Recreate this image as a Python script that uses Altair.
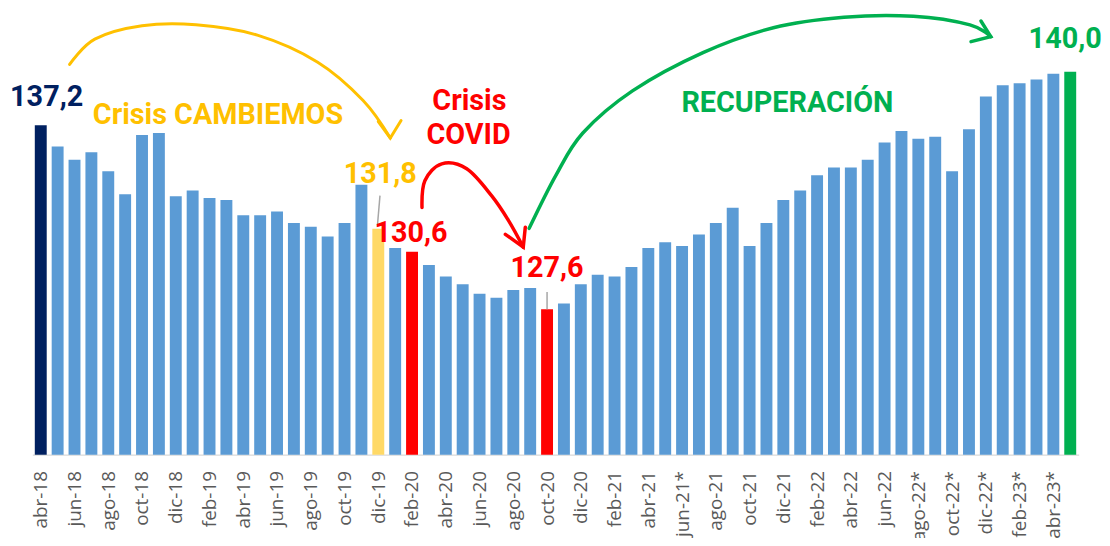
import altair as alt
import pandas as pd

# ---------------- data ----------------
months = [
    "abr-18", "may-18", "jun-18", "jul-18", "ago-18", "sep-18", "oct-18", "nov-18", "dic-18",
    "ene-19", "feb-19", "mar-19", "abr-19", "may-19", "jun-19", "jul-19", "ago-19", "sep-19",
    "oct-19", "nov-19", "dic-19",
    "ene-20", "feb-20", "mar-20", "abr-20", "may-20", "jun-20", "jul-20", "ago-20", "sep-20",
    "oct-20", "nov-20", "dic-20",
    "ene-21", "feb-21", "mar-21", "abr-21", "may-21", "jun-21*", "jul-21", "ago-21", "sep-21",
    "oct-21", "nov-21", "dic-21",
    "ene-22", "feb-22", "mar-22", "abr-22", "may-22", "jun-22", "jul-22", "ago-22*", "sep-22*",
    "oct-22*", "nov-22*", "dic-22*",
    "ene-23*", "feb-23*", "mar-23*", "abr-23*", "may-23*",
]
values = [
    137.2, 136.1, 135.4, 135.8, 134.8, 133.6, 136.7, 136.8, 133.5,
    133.8, 133.4, 133.3, 132.5, 132.5, 132.7, 132.1, 131.9, 131.4,
    132.1, 134.1, 131.8,
    130.8, 130.6, 129.9, 129.3, 128.9, 128.4, 128.2, 128.6, 128.7,
    127.6, 127.9, 128.9,
    129.4, 129.3, 129.8, 130.8, 131.1, 130.9, 131.5, 132.1, 132.9,
    130.9, 132.1, 133.3,
    133.8, 134.6, 135.0, 135.0, 135.4, 136.3, 136.9, 136.5, 136.6,
    134.8, 137.0, 138.7,
    139.3, 139.4, 139.6, 139.9, 140.0,
]
highlight = {0: "inicio", 20: "cambiemos", 22: "covid", 30: "covid", 61: "fin"}
group_names = ["base", "inicio", "cambiemos", "covid", "fin"]
group_colors = ["#5B9BD5", "#002060", "#FFD966", "#FF0000", "#00B050"]

# annotations (x in bar index, y in index value)
ann_text = ["137,2", "Crisis CAMBIEMOS", "131,8", "130,6", "127,6",
            "Crisis", "COVID", "RECUPERACIÓN", "140,0"]
ann_x = [0.35, 10.5, 20.12, 21.94, 30.0, 25.4, 25.35, 44.24, 60.7]
ann_y = [138.2, 137.27, 134.21, 131.1, 129.28, 137.99, 136.23, 137.89, 141.25]
ann_color = ["#002060", "#FFC000", "#FFC000", "#FF0000", "#FF0000",
             "#FF0000", "#FF0000", "#00B050", "#00B050"]

# curved arrows: control points (bar index, index value)
yellow_x = [1.71, 3.2, 6.0, 9.2, 12.88, 16.41, 19.1, 20.71]
yellow_y = [140.38, 141.7, 142.4, 142.45, 141.9, 140.5, 138.5, 136.54]
yellow_head_x = [20.0, 20.71, 21.35]
yellow_head_y = [137.4, 136.54, 137.45]

red_x = [22.59, 22.76, 23.76, 25.24, 26.71, 27.71, 28.59]
red_y = [132.91, 134.31, 135.19, 134.93, 133.53, 132.24, 130.84]
red_head_x = [27.53, 28.59, 28.71]
red_head_y = [131.51, 130.84, 131.88]

green_x = [28.94, 30.53, 32.12, 35.06, 39.24, 43.41, 47.59, 51.71, 55.06, 56.29]
green_y = [131.82, 134.6, 136.8, 139.0, 141.0, 142.3, 142.85, 142.9, 142.45, 141.83]
green_head_x = [55.71, 56.29, 55.12]
green_head_y = [142.65, 141.83, 141.57]

# leader lines
lead_x = [20.1, 30.0]
lead_x2 = [19.95, 30.0]
lead_y = [133.53, 128.5]
lead_y2 = [131.98, 127.6]

# ---------------- chart ----------------
bars_df = pd.DataFrame({
    "x": list(range(len(values))),
    "y": values,
    "mes": months,
    "grupo": [highlight.get(i, "base") for i in range(len(values))],
})

label_array = "[" + ",".join("'" + m + "'" for m in months) + "]"
xs = alt.Scale(domain=[-0.5, len(values) - 0.5], nice=False, zero=False, padding=0)
ys = alt.Scale(domain=[120, 143], nice=False, zero=False, padding=0)
xaxis = alt.Axis(
    values=list(range(0, len(values), 2)),
    labelExpr=label_array + "[datum.value]",
    labelAngle=-90,
    labelFont="Open Sans",
    labelFontSize=19,
    labelColor="#595959",
    labelPadding=16,
    labelOverlap=False,
    labelFlush=False,
    ticks=False,
    tickSize=0,
    grid=False,
    domainColor="#D9D9D9",
    domainWidth=1.2,
    title=None,
)

def X(field="x"):
    return alt.X(field + ":Q", scale=xs, axis=xaxis)

def Y(field="y"):
    return alt.Y(field + ":Q", scale=ys, axis=None)

bars = alt.Chart(bars_df).mark_bar(size=12).encode(
    x=X(),
    y=Y(),
    y2=alt.datum(120),
    color=alt.Color("grupo:N", scale=alt.Scale(domain=group_names, range=group_colors), legend=None),
)

def arc(xv, yv, color, width):
    df = pd.DataFrame({"x": xv, "y": yv, "k": list(range(len(xv)))})
    return alt.Chart(df).mark_line(
        interpolate="cardinal", color=color, strokeWidth=width, strokeCap="round"
    ).encode(x=X(), y=Y(), order="k:Q")

def head(xv, yv, color, width):
    df = pd.DataFrame({"x": xv, "y": yv, "k": list(range(len(xv)))})
    return alt.Chart(df).mark_line(
        color=color, strokeWidth=width, strokeCap="round", strokeJoin="miter"
    ).encode(x=X(), y=Y(), order="k:Q")

lead_df = pd.DataFrame({"x": lead_x, "x2": lead_x2, "y": lead_y, "y2": lead_y2})
leaders = alt.Chart(lead_df).mark_rule(color="#A6A6A6", strokeWidth=1.5).encode(
    x=X(), x2="x2:Q", y=Y(), y2="y2:Q"
)

ann_df = pd.DataFrame({"x": ann_x, "y": ann_y, "t": ann_text, "c": ann_color})
texts = alt.Chart(ann_df).mark_text(
    font="Roboto", fontWeight="bold", fontSize=29, baseline="alphabetic", align="center"
).encode(x=X(), y=Y(), text="t:N", color=alt.Color("c:N", scale=None))

chart = alt.layer(
    bars,
    leaders,
    arc(yellow_x, yellow_y, "#FFC000", 3),
    head(yellow_head_x, yellow_head_y, "#FFC000", 3),
    arc(red_x, red_y, "#FF0000", 3.5),
    head(red_head_x, red_head_y, "#FF0000", 3.5),
    arc(green_x, green_y, "#00B050", 3.5),
    head(green_head_x, green_head_y, "#00B050", 3.5),
    texts,
).properties(
    width=1054,
    height=443.6,
    autosize=alt.AutoSizeParams(type="none"),
    padding={"left": 24.5, "top": 4.4, "right": 23.5, "bottom": 82},
    background="white",
).configure_view(stroke=None)

chart.save("out.html", embed_options={"renderer": "svg", "actions": False})
